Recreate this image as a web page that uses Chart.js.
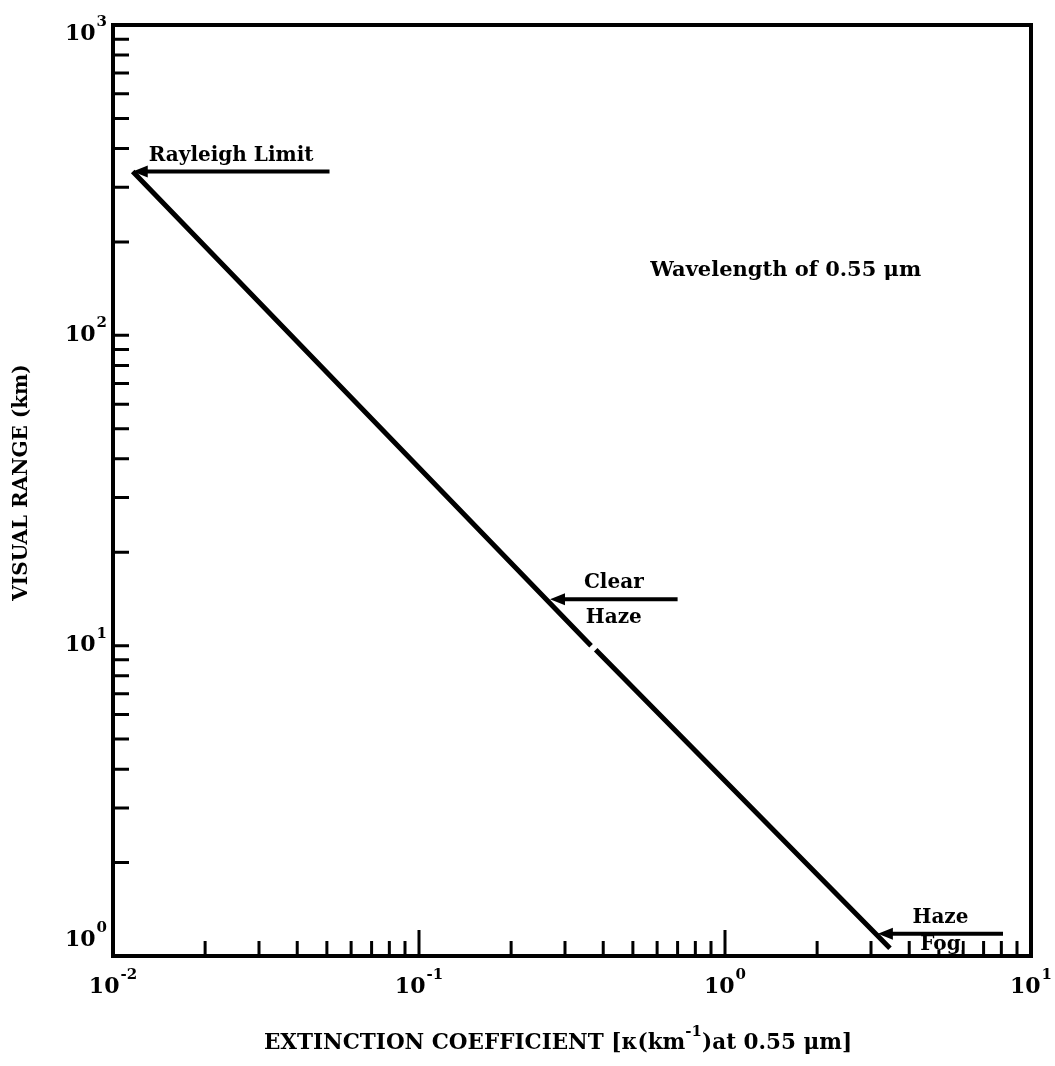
<!DOCTYPE html>
<html>
<head>
<meta charset="utf-8">
<script src="https://cdn.jsdelivr.net/npm/chart.js@4.4.0/dist/chart.umd.min.js"></script>
<style>
  html, body { margin: 0; padding: 0; background: #fff; }
  canvas { display: block; }
</style>
</head>
<body>
<canvas id="rangeChart" width="1055" height="1066"></canvas>
<script>
// extinction coefficient (km^-1) against visual range (km); the null keeps the small break in the line
const extinction = [0.0116, 0.365, 0.371, 0.378, 3.46];
const visualRange = [337, 10.0, null, 9.7, 1.06];

// decade exponents labelled on each log axis
const xDecades = [-2, -1, 0, 1];
const yDecades = [0, 1, 2, 3];

// arrows pointing at the line, with words above / below each shaft
const arrowTipX = [0.0116, 0.268, 3.16];
const arrowTipY = [337, 14.1, 1.18];
const arrowTailX = [0.051, 0.70, 8.1];
const textAbove = ["Rayleigh Limit", "Clear", "Haze"];
const textBelow = ["", "Haze", "Fog"];

const noteText = "Wavelength of 0.55 \u03bcm";
const noteAt = [0.57, 162];

const FONT = "'DejaVu Serif', serif";

function pow10(ctx, exp, x, y, align) {
    // "10" with a raised exponent, x is the centre or the right edge
    ctx.font = "bold 22px " + FONT;
    const wBase = ctx.measureText("10").width;
    ctx.font = "bold 15px " + FONT;
    const e = String(exp);
    const wExp = ctx.measureText(e).width;
    const total = wBase + 1 + wExp;
    const left = align === "right" ? x - total : x - total / 2;
    ctx.textAlign = "left";
    ctx.textBaseline = "middle";
    ctx.font = "bold 22px " + FONT;
    ctx.fillText("10", left, y);
    ctx.font = "bold 15px " + FONT;
    ctx.fillText(e, left + wBase + 1, y - 12);
}

const frame = {
    id: "frame",
    afterDatasetsDraw(chart) {
        const { ctx, chartArea: a, scales: { x, y } } = chart;
        ctx.save();
        ctx.strokeStyle = "#000";
        ctx.fillStyle = "#000";

        // inward ticks, 2..9 in each decade plus the decades
        ctx.lineWidth = 3;
        ctx.beginPath();
        for (const d of xDecades.slice(0, -1)) {
            for (let m = 1; m <= 9; m++) {
                if (m === 1 && d === xDecades[0]) continue;
                const px = x.getPixelForValue(m * Math.pow(10, d));
                const len = m === 1 ? 26 : 15;
                ctx.moveTo(px, a.bottom);
                ctx.lineTo(px, a.bottom - len);
            }
        }
        for (const d of yDecades.slice(0, -1)) {
            for (let m = 1; m <= 9; m++) {
                if (m === 1 && d === yDecades[0]) continue;
                const py = y.getPixelForValue(m * Math.pow(10, d));
                ctx.moveTo(a.left, py);
                ctx.lineTo(a.left + 16, py);
            }
        }
        ctx.stroke();

        // arrows and their words
        ctx.font = "bold 20px " + FONT;
        ctx.textAlign = "center";
        ctx.textBaseline = "alphabetic";
        for (let i = 0; i < arrowTipX.length; i++) {
            const tx = x.getPixelForValue(arrowTipX[i]);
            const ty = y.getPixelForValue(arrowTipY[i]);
            const ex = x.getPixelForValue(arrowTailX[i]);
            const mid = (tx + ex) / 2;
            // words under the shaft sit on the frame when they get close to it
            const below = Math.min(ty + 24, a.bottom - 6);
            if (textBelow[i]) {
                const w = ctx.measureText(textBelow[i]).width;
                ctx.fillStyle = "#fff";
                ctx.fillRect(mid - w / 2 - 1, below - 16, w + 2, 16);
                ctx.fillStyle = "#000";
            }
            ctx.lineWidth = 4;
            ctx.beginPath();
            ctx.moveTo(tx + 10, ty);
            ctx.lineTo(ex, ty);
            ctx.stroke();
            ctx.beginPath();
            ctx.moveTo(tx, ty);
            ctx.lineTo(tx + 15, ty - 6);
            ctx.lineTo(tx + 15, ty + 6);
            ctx.closePath();
            ctx.fill();
            ctx.fillText(textAbove[i], mid, ty - 11);
            ctx.fillText(textBelow[i], mid, below);
        }

        // plot frame
        ctx.lineWidth = 4;
        ctx.strokeRect(a.left, a.top, a.right - a.left, a.bottom - a.top);

        // decade labels
        for (const d of xDecades) {
            pow10(ctx, d, x.getPixelForValue(Math.pow(10, d)), 987, "center");
        }
        for (const d of yDecades) {
            let py = y.getPixelForValue(Math.pow(10, d));
            py = Math.min(Math.max(py, a.top + 9), a.bottom - 16);
            pow10(ctx, d, 107, py, "right");
        }

        // note in the upper right
        ctx.font = "bold 21px " + FONT;
        ctx.textAlign = "left";
        ctx.textBaseline = "middle";
        ctx.fillText(noteText, x.getPixelForValue(noteAt[0]), y.getPixelForValue(noteAt[1]));

        // axis titles
        ctx.font = "bold 20px " + FONT;
        ctx.textAlign = "center";
        ctx.textBaseline = "middle";
        ctx.save();
        ctx.translate(22, (a.top + a.bottom) / 2 - 8);
        ctx.rotate(-Math.PI / 2);
        ctx.fillText("VISUAL RANGE (km)", 0, 0);
        ctx.restore();

        const parts = [
            ["EXTINCTION COEFFICIENT [\u03ba(km", false],
            ["-1", true],
            [")at 0.55 \u03bcm]", false],
        ];
        const fontFor = sup => sup ? "bold 15px " + FONT : "bold 21.5px " + FONT;
        let total = 0;
        for (const [t, sup] of parts) {
            ctx.font = fontFor(sup);
            total += ctx.measureText(t).width;
        }
        let cx = 558 - total / 2;
        ctx.textAlign = "left";
        for (const [t, sup] of parts) {
            ctx.font = fontFor(sup);
            ctx.fillText(t, cx, sup ? 1032 : 1043);
            cx += ctx.measureText(t).width;
        }
        ctx.restore();
    }
};

new Chart(document.getElementById("rangeChart"), {
    type: "line",
    data: {
        datasets: [{
            data: extinction.map((v, i) => ({ x: v, y: visualRange[i] })),
            borderColor: "#000",
            borderWidth: 5,
            pointRadius: 0,
            tension: 0,
            spanGaps: false,
        }],
    },
    options: {
        responsive: false,
        animation: false,
        devicePixelRatio: 1,
        layout: { padding: { left: 113, right: 24, top: 25, bottom: 110 } },
        scales: {
            x: { type: "logarithmic", min: 0.01, max: 10, display: false },
            y: { type: "logarithmic", min: 1, max: 1000, display: false },
        },
        plugins: {
            legend: { display: false },
            tooltip: { enabled: false },
        },
    },
    plugins: [frame],
});
</script>
</body>
</html>
